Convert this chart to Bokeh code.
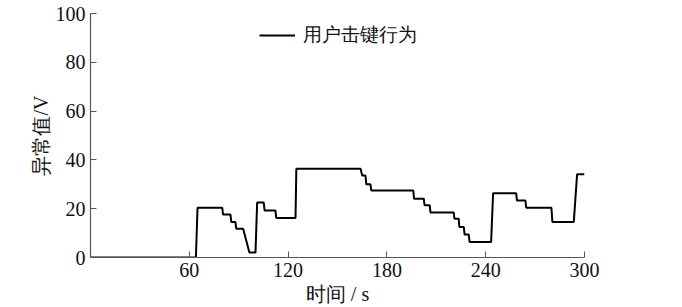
from bokeh.plotting import figure
from bokeh.models import FixedTicker, Legend, LegendItem, Range1d
from bokeh.embed import file_html
from bokeh.resources import INLINE

# data
time_s = [0, 64, 65, 80, 80.5, 85, 85.5, 88, 88.5, 92.7, 96.5, 100.2, 101.2, 105.2,
          105.7, 112.3, 112.8, 124.5, 125, 164, 165, 167, 167.5, 170, 170.5, 196,
          196.5, 202.4, 202.9, 206, 206.5, 220.6, 221, 223.6, 224, 226.7, 227.2,
          229.7, 230.2, 243.3, 244.5, 258.5, 259, 264.1, 264.6, 279.9, 280.5, 293.5,
          295.5, 300]
anomaly_v = [0, 0, 20.4, 20.4, 17.6, 17.6, 14.6, 14.6, 11.8, 11.8, 2.0, 2.0, 22.5, 22.5,
             19.3, 19.3, 16.2, 16.2, 36.4, 36.4, 33.6, 33.6, 30.0, 30.0, 27.5, 27.5,
             24.1, 24.1, 21.4, 21.4, 18.4, 18.4, 15.9, 15.9, 12.5, 12.5, 9.4,
             9.4, 6.4, 6.4, 26.3, 26.3, 23.4, 23.4, 20.4, 20.4, 14.6, 14.6,
             34.1, 34.1]
x_ticks = [60, 120, 180, 240, 300]
y_ticks = [0, 20, 40, 60, 80, 100]
series_name = "用户击键行为"

FONT = "Liberation Serif"

p = figure(width=682, height=307, output_backend="svg", toolbar_location=None,
           x_range=Range1d(0, 300), y_range=Range1d(0, 100),
           min_border_left=90, min_border_right=98, min_border_top=13, min_border_bottom=50)

p.outline_line_color = None
p.grid.visible = False
p.background_fill_color = "white"
p.border_fill_color = "white"

r = p.line(time_s, anomaly_v, line_color="black", line_width=2)

p.axis.axis_line_color = "#555555"
p.axis.axis_line_width = 1.2
p.axis.major_tick_line_color = "#555555"
p.axis.major_tick_in = 6
p.axis.major_tick_out = 0
p.axis.minor_tick_line_color = None
p.axis.major_label_text_font = FONT
p.axis.major_label_text_font_size = "20px"
p.axis.major_label_text_color = "#111111"
p.axis.axis_label_text_font = FONT
p.axis.axis_label_text_font_size = "20px"
p.axis.axis_label_text_font_style = "normal"
p.axis.axis_label_text_color = "#111111"

p.xaxis.ticker = FixedTicker(ticks=x_ticks)
p.yaxis.ticker = FixedTicker(ticks=y_ticks)
p.xaxis.axis_label = "时间 / s"
p.yaxis.axis_label = "异常值/V"
p.xaxis.major_label_standoff = 5
p.yaxis.major_label_standoff = 5
p.xaxis.axis_label_standoff = 3
p.yaxis.axis_label_standoff = 1

legend = Legend(items=[LegendItem(label=series_name, renderers=[r])],
                location=(169, 209), orientation="vertical")
legend.border_line_color = None
legend.background_fill_alpha = 0
legend.padding = 0
legend.margin = 0
legend.glyph_width = 36
legend.label_standoff = 8
legend.label_text_font = FONT
legend.label_text_font_size = "19px"
legend.label_text_color = "#111111"
p.add_layout(legend)

open("out.html", "w").write(file_html(p, INLINE))
